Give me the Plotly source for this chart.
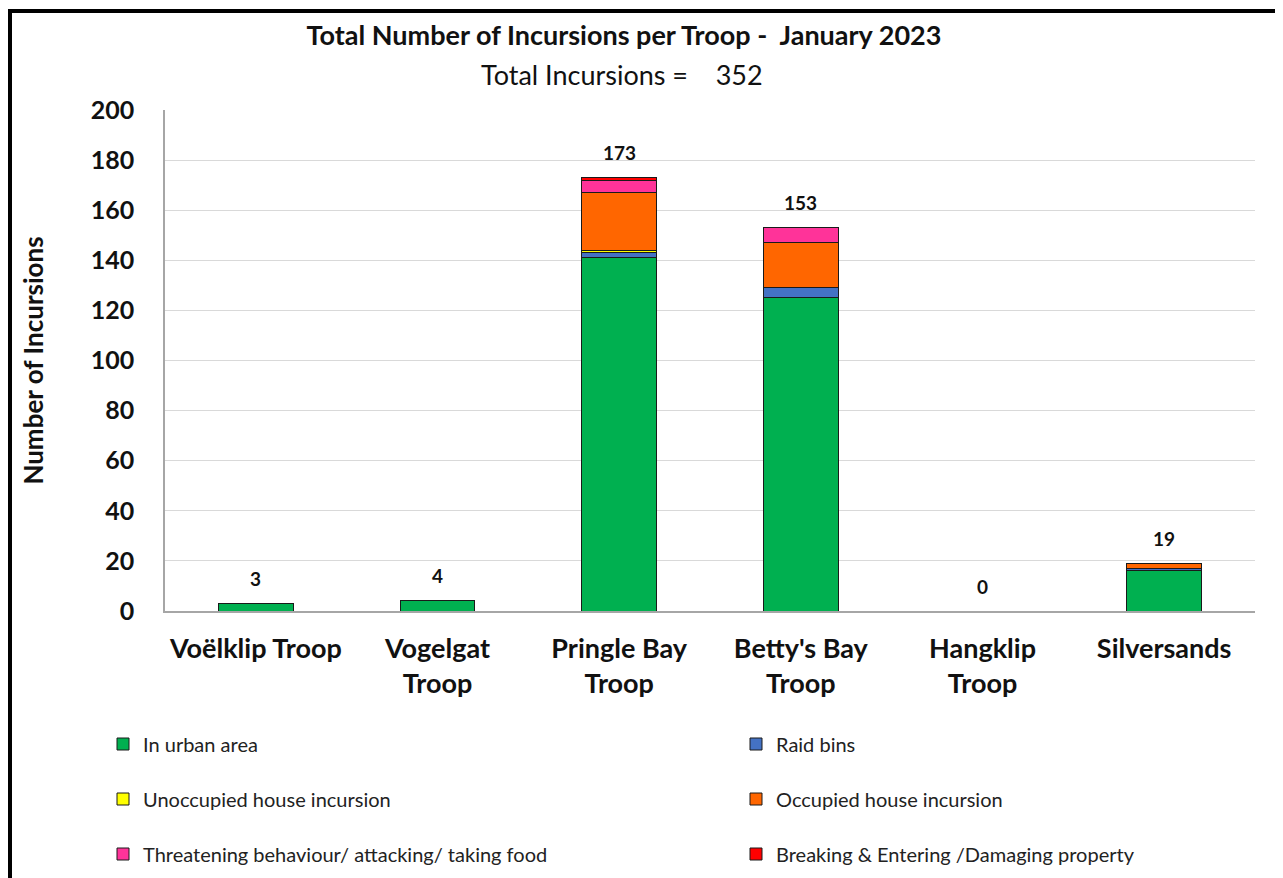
import plotly.graph_objects as go

troops = ["Voëlklip Troop", "Vogelgat<br>Troop", "Pringle Bay<br>Troop", "Betty's Bay<br>Troop", "Hangklip<br>Troop", "Silversands"]
urban = [3, 4, 141, 125, 0, 16]
raid_bins = [0, 0, 2, 4, 0, 1]
unoccupied = [0, 0, 1, 0, 0, 0]
occupied = [0, 0, 23, 18, 0, 2]
threatening = [0, 0, 5, 6, 0, 0]
breaking = [0, 0, 1, 0, 0, 0]

series_names = ["In urban area", "Raid bins", "Unoccupied house incursion",
                "Occupied house incursion", "Threatening behaviour/ attacking/ taking food",
                "Breaking & Entering /Damaging property"]
series_values = [urban, raid_bins, unoccupied, occupied, threatening, breaking]
series_colors = ["#00B050", "#4472C4", "#FFFF00", "#FF6600", "#FF3399", "#FF0000"]

totals = [sum(v) for v in zip(*series_values)]
grand_total = sum(totals)

FONT = "Lato"
OFF = 8  # page body margin
H = 501.0
W = 1090.0
def py(pix):
    return (611 - pix) / H
def px(pix):
    return (pix - 165) / W

fig = go.Figure()
legend_ids = ["legend", "legend2", "legend3", "legend4", "legend5", "legend6"]
for i, (name, vals, col) in enumerate(zip(series_names, series_values, series_colors)):
    fig.add_trace(go.Bar(
        x=troops, y=vals, name=name, marker_color=col,
        marker_line_color="#1a1a1a", marker_line_width=1,
        legend=legend_ids[i], width=0.41, showlegend=True,
    ))

for t, tot in zip(troops, totals):
    fig.add_annotation(x=t, y=tot, text=f"<b>{tot}</b>", showarrow=False,
                       yshift=25, font=dict(family=FONT, size=19, color="#111"))

legend_common = dict(orientation="h", font=dict(family=FONT, size=20, color="#222"),
                     xanchor="left", yanchor="middle", bgcolor="rgba(0,0,0,0)",
                     itemclick=False, itemdoubleclick=False)
legend_layout = {}
col_x = [103, 736]
row_y = [744, 799, 854]
for i, lid in enumerate(legend_ids):
    legend_layout[lid] = dict(x=px(col_x[i % 2]), y=py(row_y[i // 2]), **legend_common)

fig.update_layout(
    width=1283 - OFF, height=878 - OFF,
    margin=dict(l=165 - OFF, r=28, t=110 - OFF, b=267, autoexpand=False),
    paper_bgcolor="white", plot_bgcolor="white",
    barmode="stack", bargap=0.59, showlegend=True,
    font=dict(family=FONT, color="#111"),
    title=dict(text="<b>Total Number of Incursions per Troop -  January 2023</b>",
               x=(624 - OFF) / (1283 - OFF), xanchor="center",
               y=1 - (36 - OFF) / (878 - OFF), yanchor="middle",
               font=dict(family=FONT, size=27, color="#111")),
    yaxis=dict(range=[0, 200], dtick=20, showgrid=True, gridcolor="#d9d9d9",
               gridwidth=1, zeroline=False,
               showline=True, linecolor="#a6a6a6", linewidth=1.5,
               tickfont=dict(family=FONT, size=25, color="#111"),
               tickprefix="<b>", ticksuffix="</b>",
               ticks="", ticklabelstandoff=24,
               title=dict(text="<b>Number of Incursions</b>", standoff=40,
                          font=dict(family=FONT, size=26, color="#111"))),
    xaxis=dict(showline=True, linecolor="#a6a6a6", linewidth=1.5,
               tickfont=dict(family=FONT, size=27, color="#111"),
               tickprefix="<b>", ticksuffix="</b>", ticks="", ticklabelstandoff=13),
    **legend_layout,
)

fig.add_annotation(text=f"Total Incursions =    {grand_total}", xref="paper", yref="paper",
                   x=px(622), y=py(75), showarrow=False, xanchor="center", yanchor="middle",
                   font=dict(family=FONT, size=27, color="#111"))

fig.add_shape(type="rect", xref="paper", yref="paper",
              x0=px(10), x1=px(1280), y0=py(900), y1=py(11),
              line=dict(color="black", width=4), fillcolor="rgba(0,0,0,0)", layer="above")

fig.write_html("out.html")
